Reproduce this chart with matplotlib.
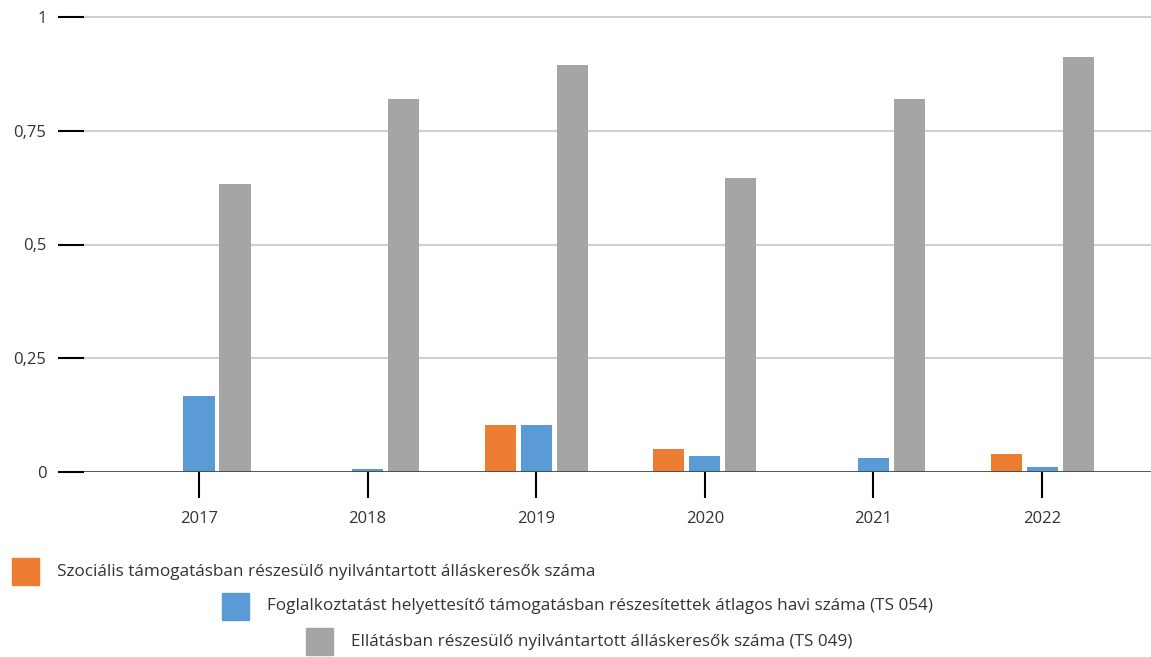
import matplotlib.pyplot as plt
import numpy as np

plt.rcParams['font.family'] = ['Open Sans', 'DejaVu Sans']

years = ['2017', '2018', '2019', '2020', '2021', '2022']
szocialis = [0, 0, 0.103, 0.050, 0, 0.040]
foglalkoztatast = [0.167, 0.006, 0.103, 0.035, 0.030, 0.011]
ellatasban = [0.633, 0.820, 0.895, 0.646, 0.820, 0.912]

labels = ['Szociális támogatásban részesülő nyilvántartott álláskeresők száma',
          'Foglalkoztatást helyettesítő támogatásban részesítettek átlagos havi száma (TS 054)',
          'Ellátásban részesülő nyilvántartott álláskeresők száma (TS 049)']
colors = ['#ED7D31', '#5B9BD5', '#A5A5A5']
yticks = [0, 0.25, 0.5, 0.75, 1]
ytick_labels = ['0', '0,25', '0,5', '0,75', '1']

W, H = 1151, 657
fig = plt.figure(figsize=(W / 100, H / 100), dpi=100)
ax = fig.add_axes([84 / W, (H - 472) / H, (W - 84) / W, 455 / H])

x = np.arange(len(years))
bw = 0.184
step = 0.2135
series = [szocialis, foglalkoztatast, ellatasban]
for i, vals in enumerate(series):
    ax.bar(x + (i - 1) * step, vals, bw, color=colors[i], zorder=3)

ax.set_xlim(-0.682, 5.646)
ax.set_ylim(0, 1)
for s in ax.spines.values():
    s.set_visible(False)

ax.set_yticks(yticks)
ax.set_yticklabels(ytick_labels)
for yv in yticks[1:]:
    ax.axhline(yv, color='#d0d0d0', lw=1.5, zorder=1, clip_on=False)
ax.axhline(0, color='#454545', lw=2, zorder=4)

ax.set_xticks(x)
ax.set_xticklabels(years)
ax.tick_params(axis='y', length=19, width=1.5, color='black', labelsize=12,
               labelcolor='#333333', pad=8)
ax.tick_params(axis='x', length=19, width=1.5, color='black', labelsize=12,
               labelcolor='#333333', pad=9)

# legend, staggered like the original
leg_pos = [(12, 558, 57), (222, 593, 267), (306, 628, 351)]
for (bx, by, tx), c, lab in zip(leg_pos, colors, labels):
    fig.patches.append(plt.Rectangle((bx / W, 1 - (by + 27) / H), 27 / W, 27 / H,
                                     transform=fig.transFigure, color=c))
    fig.text(tx / W, 1 - (by + 13.5) / H, lab, fontsize=12.3, color='#333333',
             va='center', ha='left')

fig.savefig('out.png', dpi=100)
